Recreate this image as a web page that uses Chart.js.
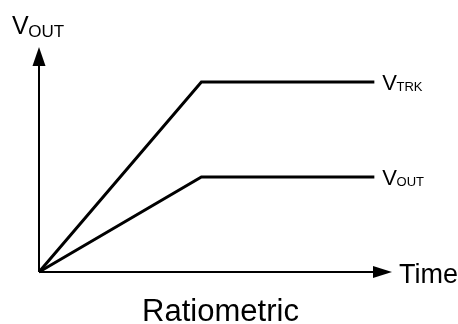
<!DOCTYPE html>
<html>
<head>
<meta charset="utf-8">
<script src="https://cdn.jsdelivr.net/npm/chart.js@4"></script>
<style>
html,body{margin:0;padding:0;background:#fff;}
#c{display:block;}
</style>
</head>
<body>
<canvas id="c" width="458" height="324"></canvas>
<script>
// Data (arbitrary units: time 0..100, voltage 0..100)
const timeValues = [0, 46, 95];
const vtrkValues = [0, 84.4, 84.4];
const voutValues = [0, 42.2, 42.2];
const seriesMain = ['V', 'V'];
const seriesSubs = ['TRK', 'OUT'];
const xAxisTitle = 'Time';
const yAxisMain = 'V';
const yAxisSub = 'OUT';
const chartTitle = 'Ratiometric';

const FONT = '"Liberation Sans", Arial, Helvetica, sans-serif';

function drawSub(ctx, main, sub, x, baseline, mainSize, subSize, subDrop) {
  ctx.font = mainSize + 'px ' + FONT;
  ctx.textAlign = 'left';
  ctx.textBaseline = 'alphabetic';
  ctx.fillText(main, x, baseline);
  const w = ctx.measureText(main).width;
  ctx.font = subSize + 'px ' + FONT;
  ctx.fillText(sub, x + w - 0.5, baseline + subDrop);
}

const decor = {
  id: 'decor',
  afterDatasetsDraw(chart) {
    const ctx = chart.ctx;
    const xs = chart.scales.x, ys = chart.scales.y;
    const x0 = xs.getPixelForValue(0), y0 = ys.getPixelForValue(0);
    const xTip = xs.getPixelForValue(xs.max), yTip = ys.getPixelForValue(ys.max);
    ctx.save();
    ctx.strokeStyle = '#000';
    ctx.fillStyle = '#000';
    ctx.lineWidth = 2;
    ctx.lineCap = 'butt';
    // axes
    ctx.beginPath();
    ctx.moveTo(x0, y0);
    ctx.lineTo(x0, yTip + 15);
    ctx.moveTo(x0, y0);
    ctx.lineTo(xTip - 15, y0);
    ctx.stroke();
    // arrowheads
    ctx.beginPath();
    ctx.moveTo(x0, yTip);
    ctx.lineTo(x0 - 6.5, yTip + 19);
    ctx.lineTo(x0 + 6.5, yTip + 19);
    ctx.closePath();
    ctx.fill();
    ctx.beginPath();
    ctx.moveTo(xTip, y0);
    ctx.lineTo(xTip - 19, y0 - 6);
    ctx.lineTo(xTip - 19, y0 + 6);
    ctx.closePath();
    ctx.fill();

    // series labels
    const endX = xs.getPixelForValue(timeValues[timeValues.length - 1]);
    const ends = [vtrkValues[vtrkValues.length - 1], voutValues[voutValues.length - 1]];
    ends.forEach((v, i) => {
      const py = ys.getPixelForValue(v);
      drawSub(ctx, seriesMain[i], seriesSubs[i], endX + 8, py + 8, 22, 13, 1);
    });

    // y axis label
    drawSub(ctx, yAxisMain, yAxisSub, 12, 33.5, 25, 17, 3);

    // x axis label
    ctx.font = '27px ' + FONT;
    ctx.textAlign = 'left';
    ctx.textBaseline = 'alphabetic';
    ctx.fillText(xAxisTitle, xTip + 7, y0 + 11);

    // title
    ctx.font = '31px ' + FONT;
    ctx.textAlign = 'center';
    ctx.fillText(chartTitle, 220.5, 320.5);
    ctx.restore();
  }
};

new Chart(document.getElementById('c'), {
  type: 'scatter',
  data: {
    datasets: [
      {
        label: 'VTRK',
        data: timeValues.map((t, i) => ({ x: t, y: vtrkValues[i] })),
        showLine: true,
        borderColor: '#000',
        borderWidth: 3,
        pointRadius: 0,
        borderJoinStyle: 'miter',
        borderCapStyle: 'butt',
        clip: false
      },
      {
        label: 'VOUT',
        data: timeValues.map((t, i) => ({ x: t, y: voutValues[i] })),
        showLine: true,
        borderColor: '#000',
        borderWidth: 3,
        pointRadius: 0,
        borderJoinStyle: 'miter',
        borderCapStyle: 'butt',
        clip: false
      }
    ]
  },
  options: {
    responsive: false,
    animation: false,
    layout: { padding: { left: 39, right: 66, top: 47, bottom: 52 } },
    scales: {
      x: { type: 'linear', min: 0, max: 100, display: false },
      y: { type: 'linear', min: 0, max: 100, display: false }
    },
    plugins: { legend: { display: false }, tooltip: { enabled: false } },
    events: []
  },
  plugins: [decor]
});
</script>
</body>
</html>
